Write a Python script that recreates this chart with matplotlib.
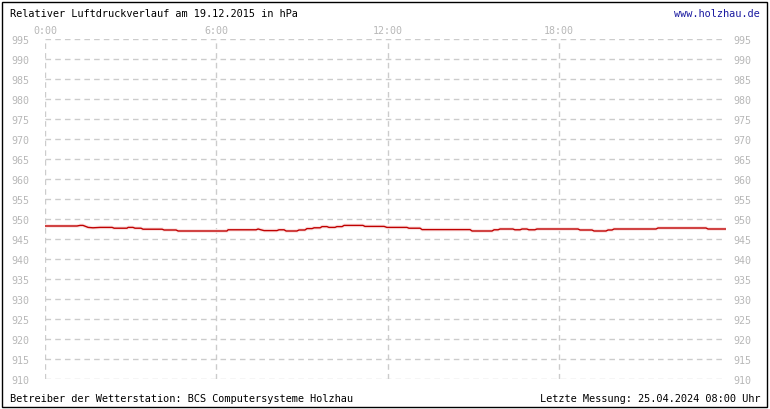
import matplotlib
matplotlib.use("Agg")
import matplotlib.pyplot as plt
from matplotlib.patches import Rectangle

# pressure readings (hour of day, hPa)
hours = [0, 1.12, 1.23, 1.33, 1.51, 1.68, 1.93, 2.35, 2.42, 2.87, 2.91, 3.08,
         3.15, 3.36, 3.43, 4.10, 4.17, 4.59, 4.66, 6.37, 6.41, 7.39, 7.46, 7.56,
         7.67, 8.12, 8.19, 8.37, 8.44, 8.82, 8.89, 9.10, 9.17, 9.35, 9.42, 9.63,
         9.70, 9.87, 9.94, 10.15, 10.22, 10.40, 10.47, 11.13, 11.20, 11.87, 11.97,
         12.67, 12.74, 13.13, 13.20, 14.88, 14.95, 15.65, 15.72, 15.86, 15.93,
         16.38, 16.45, 16.63, 16.70, 16.87, 16.94, 17.15, 17.22, 18.66, 18.73,
         19.15, 19.22, 19.64, 19.71, 19.85, 19.92, 21.39, 21.46, 23.14, 23.21, 23.84]
pressure = [948.25, 948.25, 948.4, 948.4, 947.9, 947.8, 947.9, 947.9, 947.7, 947.7,
            947.9, 947.9, 947.7, 947.7, 947.45, 947.45, 947.25, 947.25, 947.0, 947.0,
            947.3, 947.3, 947.5, 947.3, 947.1, 947.1, 947.3, 947.3, 947.0, 947.0,
            947.25, 947.25, 947.6, 947.6, 947.8, 947.8, 948.1, 948.1, 947.9, 947.9,
            948.1, 948.1, 948.4, 948.4, 948.15, 948.15, 947.9, 947.9, 947.7, 947.7,
            947.35, 947.35, 947.0, 947.0, 947.3, 947.3, 947.5, 947.5, 947.3, 947.3,
            947.5, 947.5, 947.3, 947.3, 947.5, 947.5, 947.25, 947.25, 947.0, 947.0,
            947.25, 947.25, 947.5, 947.5, 947.75, 947.75, 947.5, 947.5]

x_ticks = [0, 6, 12, 18]
x_labels = ["0:00", "6:00", "12:00", "18:00"]
y_ticks = list(range(910, 1000, 5))

title = "Relativer Luftdruckverlauf am 19.12.2015 in hPa"
site = "www.holzhau.de"
footer_left = "Betreiber der Wetterstation: BCS Computersysteme Holzhau"
footer_right = "Letzte Messung: 25.04.2024 08:00 Uhr"

W, H = 770, 410
plt.rcParams["font.family"] = ["DejaVu Sans Mono"]
fig = plt.figure(figsize=(W / 100, H / 100), dpi=100)
fig.patch.set_facecolor("white")

ax = fig.add_axes([45 / W, 30 / H, 681 / W, 340 / H])
ax.plot(hours, pressure, color="#fbe2e2", linewidth=2.6)
ax.plot(hours, pressure, color="#c00000", linewidth=1.0)

ax.set_xlim(0, 23.84)
ax.set_ylim(910, 995)
for s in ax.spines.values():
    s.set_visible(False)

gridcol = "#cccccc"
for yv in y_ticks:
    ax.axhline(yv, color=gridcol, linewidth=1, linestyle=(0, (4, 3)), zorder=0)
for xv in x_ticks:
    ax.axvline(xv, color=gridcol, linewidth=1, linestyle=(0, (4, 3)), zorder=0)

ax.set_xticks(x_ticks)
ax.set_xticklabels(x_labels)
ax.xaxis.tick_top()
ax.set_yticks(y_ticks)
ax.tick_params(axis="both", length=0, labelsize=7.2, colors="#b8b8b8")
ax.tick_params(axis="x", pad=3)
ax.tick_params(axis="y", pad=11)

# right side labels
ax2 = ax.twinx()
ax2.set_ylim(910, 995)
ax2.set_yticks(y_ticks)
ax2.tick_params(axis="y", length=0, labelsize=7.2, colors="#b8b8b8", pad=5)
for s in ax2.spines.values():
    s.set_visible(False)

fig.text(10 / W, 1 - 14 / H, title, fontsize=7.4, color="black", va="center", ha="left")
fig.text(760 / W, 1 - 14 / H, site, fontsize=7.4, color="#1a1aa0", va="center", ha="right")
fig.text(10 / W, 1 - 399 / H, footer_left, fontsize=7.4, color="black", va="center", ha="left")
fig.text(760 / W, 1 - 399 / H, footer_right, fontsize=7.4, color="black", va="center", ha="right")

fig.patches.append(Rectangle((2 / W, 2 / H), 765 / W, 405 / H, transform=fig.transFigure,
                             fill=False, edgecolor="black", linewidth=1))

fig.savefig("out.png", dpi=100)
